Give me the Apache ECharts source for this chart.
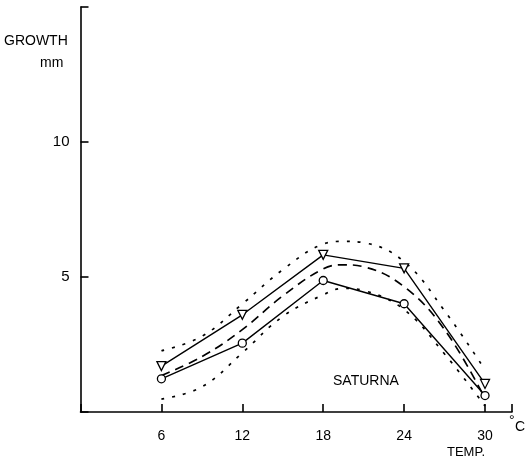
<!DOCTYPE html>
<html><head><meta charset="utf-8">
<script src="https://cdn.jsdelivr.net/npm/echarts@6/dist/echarts.min.js"></script>
<style>html,body{margin:0;padding:0;background:#fff}#c{width:528px;height:468px}</style>
</head><body><div id="c"></div>
<script>
const temps = [6, 12, 18, 24, 30];
const growthTriangle = [1.7, 3.6, 5.82, 5.32, 1.04];
const growthCircle = [1.23, 2.55, 4.87, 4.01, 0.61];
const fitX = [6, 9, 12, 15, 18, 19.5, 21, 24, 27, 30];
const fitMid = [1.35, 2.05, 3.05, 4.3, 5.3, 5.45, 5.38, 4.64, 3.05, 0.5];
const fitUpper = [2.27, 2.8, 4.0, 5.27, 6.22, 6.32, 6.27, 5.57, 3.75, 1.56];
const fitLower = [0.48, 0.93, 2.19, 3.54, 4.34, 4.58, 4.5, 3.79, 2.15, 0.22];
const xTicks = [6, 12, 18, 24, 30];
const yTicks = [5, 10];

const pair = (xs, ys) => xs.map((x, i) => [x, ys[i]]);
const F = 'Liberation Sans, Arial, sans-serif';
const chart = echarts.init(document.getElementById('c'));
chart.setOption({
  animation: false,
  backgroundColor: '#fff',
  grid: {left: 80.5, right: 16, top: 7, bottom: 56},
  xAxis: {
    type: 'value', min: 0, max: 32, interval: 6,
    axisLine: {lineStyle: {color: '#000', width: 1.6}},
    axisTick: {inside: true, length: 8, lineStyle: {color: '#000', width: 1.6}},
    axisLabel: {color: '#000', fontFamily: F, fontSize: 14, margin: 17,
      formatter: v => xTicks.includes(v) ? String(v) : ''},
    splitLine: {show: false}
  },
  yAxis: {
    type: 'value', min: 0, max: 15, interval: 5,
    axisLine: {lineStyle: {color: '#000', width: 1.6}},
    axisTick: {inside: true, length: 8, lineStyle: {color: '#000', width: 1.6}},
    axisLabel: {color: '#000', fontFamily: F, fontSize: 15, margin: 11,
      formatter: v => yTicks.includes(v) ? String(v) : ''},
    splitLine: {show: false}
  },
  series: [
    {type: 'line', data: pair(fitX, fitMid), smooth: 0.4, symbol: 'none',
      lineStyle: {color: '#000', width: 1.7, type: [9, 6]}},
    {type: 'line', data: pair(fitX, fitUpper), smooth: 0.4, symbol: 'none',
      lineStyle: {color: '#000', width: 1.7, type: [3, 8]}},
    {type: 'line', data: pair(fitX, fitLower), smooth: 0.4, symbol: 'none',
      lineStyle: {color: '#000', width: 1.7, type: [3, 8]}},
    {type: 'line', data: pair(temps, growthTriangle), symbol: 'triangle', symbolRotate: 180, symbolSize: 9,
      lineStyle: {color: '#000', width: 1.4}, itemStyle: {color: '#fff', borderColor: '#000', borderWidth: 1.3}},
    {type: 'line', data: pair(temps, growthCircle), symbol: 'circle', symbolSize: 8,
      lineStyle: {color: '#000', width: 1.4}, itemStyle: {color: '#fff', borderColor: '#000', borderWidth: 1.3}}
  ],
  graphic: [
    {type: 'text', left: 4, top: 34, style: {text: 'GROWTH', font: '14px ' + F, fill: '#000'}},
    {type: 'text', left: 40, top: 56, style: {text: 'mm', font: '14px ' + F, fill: '#000'}},
    {type: 'text', left: 333, top: 374, style: {text: 'SATURNA', font: '14px ' + F, fill: '#000'}},
    {type: 'text', left: 509, top: 414, style: {text: '°', font: '14px ' + F, fill: '#000'}},
    {type: 'text', left: 515, top: 420, style: {text: 'C', font: '14px ' + F, fill: '#000'}},
    {type: 'text', left: 447, top: 446, style: {text: 'TEMP.', font: '13px ' + F, fill: '#000'}}
  ]
});
</script></body></html>
